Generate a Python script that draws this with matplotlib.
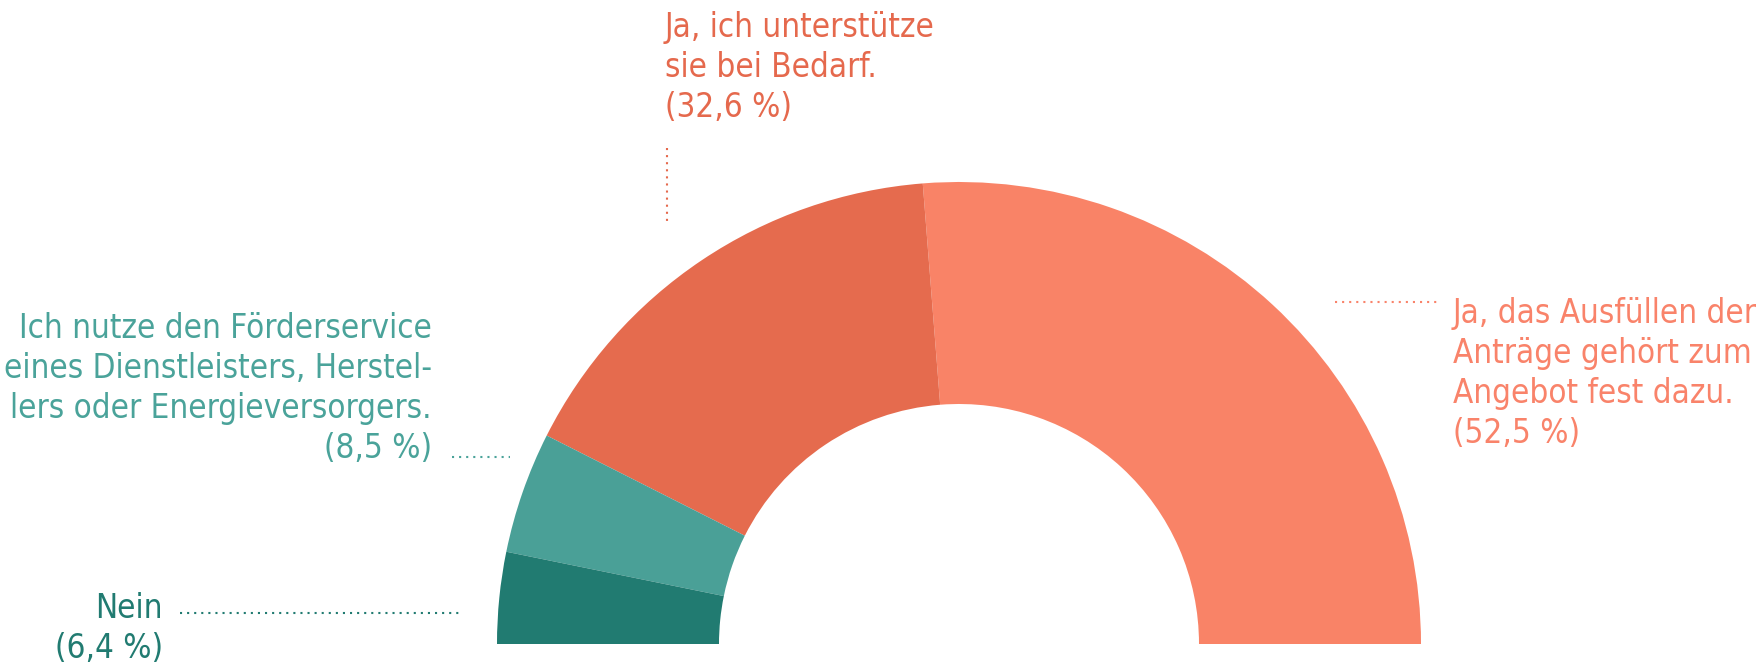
import numpy as np
import matplotlib.pyplot as plt

# Anteile (Prozent), von rechts nach links im Halbkreis
labels = [['Ja, das Ausfüllen der', 'Anträge gehört zum', 'Angebot fest dazu.', '(52,5 %)'],
          ['Ja, ich unterstütze', 'sie bei Bedarf.', '(32,6 %)'],
          ['Ich nutze den Förderservice', 'eines Dienstleisters, Herstel-',
           'lers oder Energieversorgers.', '(8,5 %)'],
          ['Nein', '(6,4 %)']]
shares = [52.5, 32.6, 8.5, 6.4]
colors = ['#F98367', '#E56B4E', '#4AA097', '#217B71']
text_colors = ['#F9836A', '#E5694D', '#4AA39A', '#217B71']

W, H = 1765, 663
plt.rcParams['font.family'] = ['DejaVu Sans']
plt.rcParams['font.stretch'] = 'condensed'

fig = plt.figure(figsize=(W / 100, H / 100), dpi=100)
ax = fig.add_axes([0, 0, 1, 1])

# Halbkreis: Summe 100 % -> halbe Torte
fracs = np.array(shares) / 200.0
ax.pie(fracs, normalize=False, colors=colors, startangle=0, counterclock=True,
       center=(959, H - 644), radius=462,
       wedgeprops=dict(width=222, linewidth=0))

ax.set_xlim(0, W)
ax.set_ylim(0, H)
ax.set_aspect('equal')
ax.axis('off')

fs = 23.8
gap = 40
dots = dict(linestyle=(0, (1, 2.4)), linewidth=1.5)


def label(x, y, lines, color, ha):
    # jede Zeile einzeln, y = Grundlinie der ersten Zeile (Pixel von oben)
    for i, s in enumerate(lines):
        ax.text(x, H - y - i * gap, s, color=color, fontsize=fs,
                ha=ha, va='baseline', fontstretch='condensed')


# rechts: 52,5 %
label(1453, 323, labels[0], text_colors[0], 'left')
ax.plot([1335, 1437], [H - 302, H - 302], color=text_colors[0], **dots)

# oben: 32,6 %
label(665, 37, labels[1], text_colors[1], 'left')
ax.plot([667, 667], [H - 148, H - 222], color=text_colors[1], **dots)

# links: 8,5 %
label(432, 338, labels[2], text_colors[2], 'right')
ax.plot([452, 510], [H - 457, H - 457], color=text_colors[2], **dots)

# unten links: Nein
label(163, 618, labels[3], text_colors[3], 'right')
ax.plot([180, 460], [H - 613, H - 613], color=text_colors[3], **dots)

fig.savefig('out.png', dpi=100)
